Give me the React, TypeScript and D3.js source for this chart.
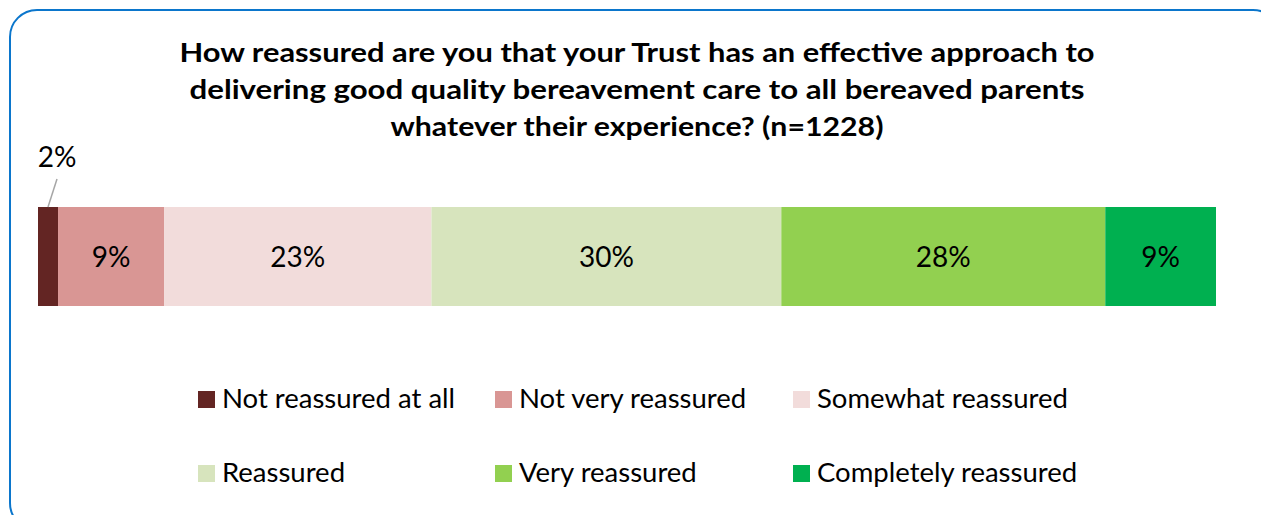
import React from "react";
import * as d3 from "d3";

const titleLines = [
  "How reassured are you that your Trust has an effective approach to",
  "delivering good quality bereavement care to all bereaved parents",
  "whatever their experience? (n=1228)",
];
const titleWidths = [915, 895, 493];
const categories = [
  "Not reassured at all",
  "Not very reassured",
  "Somewhat reassured",
  "Reassured",
  "Very reassured",
  "Completely reassured",
];
const values = [1.7, 9.0, 22.7, 29.7, 27.5, 9.4];
const labels = ["2%", "9%", "23%", "30%", "28%", "9%"];
const colors = ["#632523", "#D99694", "#F2DCDB", "#D7E4BD", "#92D050", "#00B050"];

const FONT = "Lato, 'Open Sans', sans-serif";

export default function App() {
  const W = 1261, H = 515;
  const x = d3.scaleLinear().domain([0, d3.sum(values)]).range([38, 1216]);
  const y = d3.scaleBand().domain(["q"]).range([207, 306]).padding(0);
  const stack = d3.stack<number[]>().keys(categories.map((_, i) => String(i))).value((d, k) => d[+k]);
  const series = stack([values]);
  const legendCols = [198, 495, 793];
  const legendRows = [399, 473];
  return (
    <svg width={W} height={H} style={{ position: "absolute", left: 0, top: 0, background: "#fff" }}>
      <rect x={10} y={10} width={1270} height={520} rx={27} ry={27} fill="#fff" stroke="#0B76CC" strokeWidth={2} />
      {titleLines.map((t, i) => (
        <text key={i} x={637} y={62 + i * 37} textAnchor="middle" fontFamily={FONT} fontWeight={700} fontSize={26}
          fill="#000" textLength={titleWidths[i]} lengthAdjust="spacingAndGlyphs">
          {t}
        </text>
      ))}
      {series.map((s, i) => {
        const [a, b] = s[0];
        const x0 = x(a), x1 = x(b);
        return (
          <g key={i}>
            <rect x={x0} y={y("q")} width={x1 - x0} height={y.bandwidth()} fill={colors[i]} />
            {i > 0 && (
              <text x={(x0 + x1) / 2} y={y("q")! + y.bandwidth() / 2 + 10} textAnchor="middle" fontFamily={FONT} fontSize={28} fill="#000">
                {labels[i]}
              </text>
            )}
            {i === 0 && (
              <g>
                <line x1={57} y1={179} x2={48} y2={207} stroke="#A6A6A6" strokeWidth={1.5} />
                <text x={57} y={167} textAnchor="middle" fontFamily={FONT} fontSize={28} fill="#000">
                  {labels[i]}
                </text>
              </g>
            )}
          </g>
        );
      })}
      {categories.map((c, i) => {
        const cx = legendCols[i % 3];
        const cy = legendRows[Math.floor(i / 3)];
        return (
          <g key={c}>
            <rect x={cx} y={cy - 8} width={17} height={17} fill={colors[i]} />
            <text x={cx + 24} y={cy + 9} fontFamily={FONT} fontSize={27.5} fill="#000">
              {c}
            </text>
          </g>
        );
      })}
    </svg>
  );
}
